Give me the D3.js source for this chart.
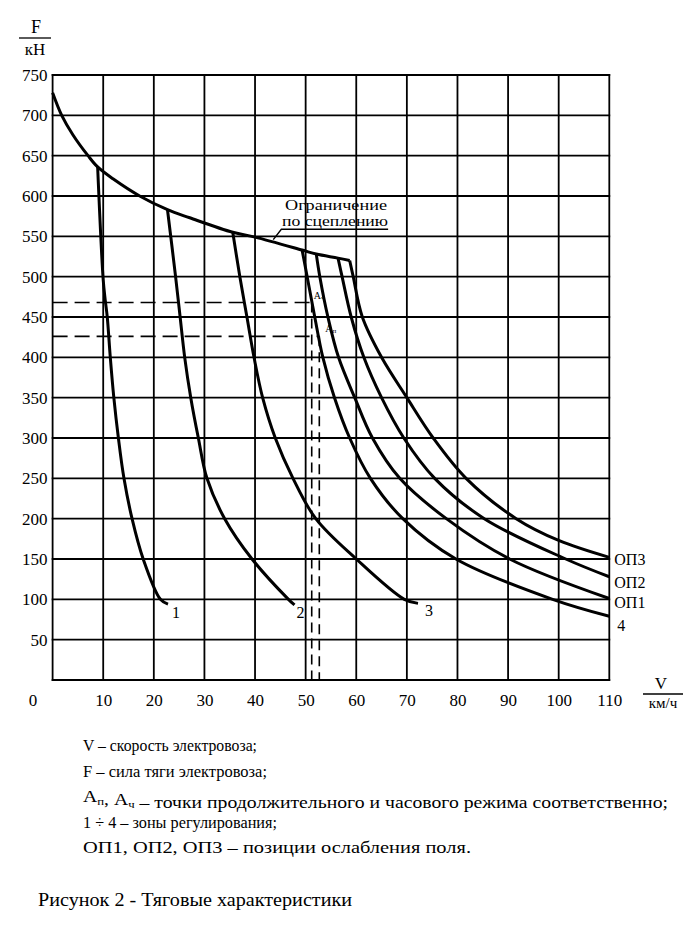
<!DOCTYPE html>
<html>
<head>
<meta charset="utf-8">
<script src="https://cdn.jsdelivr.net/npm/d3@7"></script>
<style>
  html, body { margin: 0; padding: 0; background: #fff; }
  svg { display: block; }
</style>
</head>
<body>
<svg id="chart" width="700" height="936"></svg>
<script>
// ---- data ----
const xTickValues = [10, 20, 30, 40, 50, 60, 70, 80, 90, 100, 110];
const yTickValues = [50, 100, 150, 200, 250, 300, 350, 400, 450, 500, 550, 600, 650, 700, 750];

const adhesionV = [0, 1.8, 4, 7, 8.9, 12, 17.2, 22.7, 27.1, 35.6, 40, 49.3, 52.1, 56.4, 58.7];
const adhesionF = [728, 700, 676, 650, 636, 621, 600, 583, 573, 555, 549, 533, 528, 523, 520];

const zone1V = [8.9, 10.0, 10.4, 10.8, 11.4, 12.1, 13.0, 14.1, 15.7, 17.9, 21.3, 22.8];
const zone1F = [636, 496, 471, 450, 400, 350, 300, 250, 200, 150, 100, 94];

const zone2V = [22.7, 24.3, 25.2, 26.1, 27.3, 28.8, 30.5, 34.0, 39.4, 46.6, 47.8];
const zone2F = [583, 500, 450, 400, 350, 300, 250, 200, 150, 100, 93];

const zone3V = [35.6, 37.0, 38.4, 39.8, 41.5, 44.0, 47.5, 52.0, 60.0, 69.5, 72.2];
const zone3F = [555, 500, 450, 400, 350, 300, 250, 200, 150, 100, 95];

const zone4V = [49.3, 50.3, 51.8, 53.4, 55.7, 58.7, 62.8, 69.2, 79.7, 98.8, 110];
const zone4F = [533, 500, 450, 400, 350, 300, 250, 200, 150, 100, 79];

const op1V = [52.1, 52.8, 54.4, 56.5, 59.7, 63.2, 68.6, 77.8, 90.3, 110];
const op1F = [528, 500, 450, 400, 350, 300, 250, 200, 150, 101];

const op2V = [56.4, 57.2, 59.0, 61.5, 65.0, 69.4, 75.5, 85.3, 101.4, 110];
const op2F = [523, 500, 450, 400, 350, 300, 250, 200, 150, 128];

const op3V = [58.7, 59.4, 61.2, 65.0, 70.0, 75.2, 81.7, 91.6, 100, 110];
const op3F = [520, 500, 450, 400, 350, 300, 250, 200, 173, 152];

// operating points
const pointNames = ["Aч", "Aп"];
const pointV = [51.2, 52.7];
const pointF = [468, 426];

const curveLabels = ["1", "2", "3", "4", "ОП1", "ОП2", "ОП3"];
const curveLabelV = [22.8, 47.8, 72.2, 110, 110, 110, 110];
const curveLabelF = [94, 93, 95, 79, 101, 128, 152];

const legendLines = [
  "V – скорость электровоза;",
  "F – сила тяги электровоза;",
  "A_п, A_ч – точки продолжительного и часового режима соответственно;",
  "1 ÷ 4 – зоны регулирования;",
  "ОП1, ОП2, ОП3 – позиции ослабления поля."
];
const caption = "Рисунок 2 - Тяговые характеристики";

// ---- drawing ----
const FONT = '"Liberation Serif"';
const svg = d3.select("#chart").style("font-family", FONT);
const x = d3.scaleLinear().domain([0, 110]).range([52.6, 609.3]);
const y = d3.scaleLinear().domain([0, 750]).range([680, 75]);

function txt(sel) { return sel.append("text").style("font-family", FONT).attr("fill", "#000"); }

const grid = svg.append("g").attr("stroke", "#000").attr("stroke-width", 1.8);
grid.selectAll("line.v").data([0].concat(xTickValues)).enter().append("line")
  .attr("x1", d => x(d)).attr("x2", d => x(d))
  .attr("y1", y(0) + 0.9).attr("y2", y(750) - 0.9);
grid.selectAll("line.h").data([0].concat(yTickValues)).enter().append("line")
  .attr("x1", x(0) - 0.9).attr("x2", x(110) + 0.9)
  .attr("y1", d => y(d)).attr("y2", d => y(d));

// axes (labels only)
const yAxis = d3.axisLeft(y).tickValues(yTickValues).tickSize(0).tickPadding(5);
const gy = svg.append("g").attr("transform", `translate(${x(0)},0)`).call(yAxis);
gy.attr("font-family", null).attr("font-size", 17);
gy.select(".domain").remove();
gy.selectAll("text").style("font-family", FONT).attr("fill", "#000");

const xAxis = d3.axisBottom(x).tickValues(xTickValues).tickSize(0).tickPadding(14);
const gx = svg.append("g").attr("transform", `translate(0,${y(0)})`).call(xAxis);
gx.attr("font-family", null).attr("font-size", 17);
gx.select(".domain").remove();
gx.selectAll("text").style("font-family", FONT).attr("fill", "#000");

txt(svg).attr("x", 33).attr("y", 706).attr("text-anchor", "middle").attr("font-size", 17).text("0");

// axis titles
txt(svg).attr("x", 36).attr("y", 33).attr("text-anchor", "middle").attr("font-size", 18).text("F");
svg.append("line").attr("x1", 19).attr("x2", 51).attr("y1", 38).attr("y2", 38).attr("stroke", "#000").attr("stroke-width", 1.3);
txt(svg).attr("x", 35).attr("y", 55).attr("text-anchor", "middle").attr("font-size", 17).text("кН");

txt(svg).attr("x", 661).attr("y", 689).attr("text-anchor", "middle").attr("font-size", 17).text("V");
svg.append("line").attr("x1", 643).attr("x2", 683).attr("y1", 694).attr("y2", 694).attr("stroke", "#000").attr("stroke-width", 1.3);
txt(svg).attr("x", 663).attr("y", 708).attr("text-anchor", "middle").attr("font-size", 15).text("км/ч");

// dashed lines for operating points
const dash = svg.append("g").attr("stroke", "#000").attr("stroke-width", 1.6).attr("fill", "none");
pointV.forEach((v, i) => {
  dash.append("line").attr("x1", x(0)).attr("x2", x(v)).attr("y1", y(pointF[i])).attr("y2", y(pointF[i]))
    .attr("stroke-dasharray", "15,7");
  dash.append("line").attr("x1", x(v)).attr("x2", x(v)).attr("y1", y(pointF[i])).attr("y2", y(0))
    .attr("stroke-dasharray", "10,6");
});

// curves
const line = d3.line().x(d => x(d[0])).y(d => y(d[1])).curve(d3.curveCatmullRom.alpha(0.5));
const series = [
  [adhesionV, adhesionF], [zone1V, zone1F], [zone2V, zone2F], [zone3V, zone3F],
  [zone4V, zone4F], [op1V, op1F], [op2V, op2F], [op3V, op3F]
];
svg.append("g").selectAll("path").data(series).enter().append("path")
  .attr("d", s => line(s[0].map((v, i) => [v, s[1][i]])))
  .attr("fill", "none").attr("stroke", "#000").attr("stroke-width", 3)
  .attr("stroke-linejoin", "round");

// operating point labels
const ptOff = [[2, -3], [6, -4]];
pointNames.forEach((n, i) => {
  const t = txt(svg).attr("x", x(pointV[i]) + ptOff[i][0]).attr("y", y(pointF[i]) + ptOff[i][1]).attr("font-size", 10);
  t.append("tspan").text(n[0]);
  t.append("tspan").attr("font-size", 7).attr("dy", 1).text(n.slice(1));
});

// curve labels
const labOff = [[4, 14], [2, 13], [7, 13], [8, 14.5], [5, 9.5], [5, 11], [5, 8]];
curveLabels.forEach((c, i) => {
  txt(svg).attr("x", x(curveLabelV[i]) + labOff[i][0]).attr("y", y(curveLabelF[i]) + labOff[i][1])
    .attr("font-size", 16).text(c);
});

// adhesion leader & label
const leadV = [43.6, 45.2, 66.3];
const leadF = [546, 558.7, 558.7];
svg.append("path").attr("d", d3.line().x(d => x(d[0])).y(d => y(d[1]))(leadV.map((v, i) => [v, leadF[i]])))
  .attr("fill", "none").attr("stroke", "#000").attr("stroke-width", 1.4);
txt(svg).attr("x", 285).attr("y", 210).attr("font-size", 14)
  .attr("textLength", 102).attr("lengthAdjust", "spacingAndGlyphs").text("Ограничение");
txt(svg).attr("x", 282).attr("y", 225.5).attr("font-size", 14)
  .attr("textLength", 106).attr("lengthAdjust", "spacingAndGlyphs").text("по сцеплению");

// legend
const legendWidths = [174, 184, 585, 194, 388];
legendLines.forEach((l, i) => {
  const t = txt(svg).attr("x", 83).attr("y", 751 + i * 25.6).attr("font-size", 17)
    .attr("textLength", legendWidths[i]).attr("lengthAdjust", "spacingAndGlyphs");
  const parts = l.split(/(A_[пч])/);
  parts.forEach(p => {
    if (/^A_[пч]$/.test(p)) {
      t.append("tspan").text("A");
      t.append("tspan").attr("font-size", 11).attr("dy", 3).text(p.slice(2));
      t.append("tspan").attr("dy", -3).text("");
    } else if (p.length) {
      t.append("tspan").text(p);
    }
  });
});
txt(svg).attr("x", 38).attr("y", 906).attr("font-size", 18)
  .attr("textLength", 314).attr("lengthAdjust", "spacingAndGlyphs").text(caption);
</script>
</body>
</html>
